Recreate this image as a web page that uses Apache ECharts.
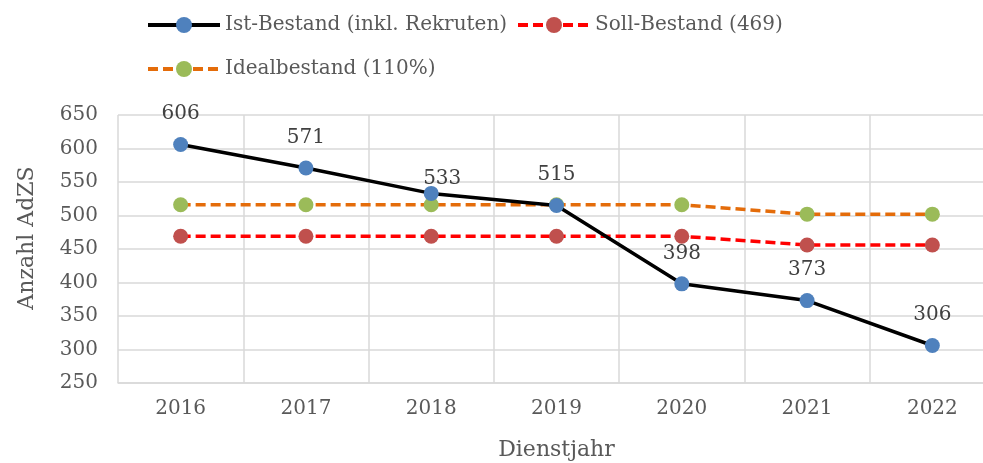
<!DOCTYPE html>
<html>
<head>
<meta charset="utf-8">
<script src="https://cdn.jsdelivr.net/npm/echarts@6/dist/echarts.min.js"></script>
<style>
  html, body { margin: 0; padding: 0; background: #fff; }
  #chart { width: 983px; height: 463px; }
</style>
</head>
<body>
<div id="chart"></div>
<script>
// Dienstjahre
var years = ['2016', '2017', '2018', '2019', '2020', '2021', '2022'];
// Ist-Bestand (inkl. Rekruten)
var istBestand = [606, 571, 533, 515, 398, 373, 306];
// Soll-Bestand (469)
var sollBestand = [469, 469, 469, 469, 469, 456, 456];
// Idealbestand (110%)
var idealBestand = [516, 516, 516, 516, 516, 502, 502];

var font = 'DejaVu Serif';
var textColor = '#595959';

var chart = echarts.init(document.getElementById('chart'));

// eine Legende pro Eintrag, damit die Positionen stimmen
function makeLegend(name, left, top) {
  return {
    data: [name],
    left: left,
    top: top,
    itemWidth: 72,
    itemHeight: 20,
    lineStyle: { width: 4 },
    textStyle: { fontFamily: font, fontSize: 20, color: textColor }
  };
}

// Ist-Werte mit Beschriftung; 533 sitzt im Original leicht versetzt
var istData = istBestand.map(function (v, i) {
  if (i === 2) {
    return { value: v, label: { offset: [11, 16] } };
  }
  return v;
});

var option = {
  animation: false,
  textStyle: { fontFamily: font },
  legend: [
    makeLegend('Ist-Bestand (inkl. Rekruten)', 141, 10),
    makeLegend('Soll-Bestand (469)', 511, 10),
    makeLegend('Idealbestand (110%)', 141, 54)
  ],
  grid: {
    left: 118,
    right: -12,
    top: 115,
    bottom: 80,
    outerBoundsMode: 'none'
  },
  xAxis: {
    type: 'category',
    data: years,
    name: 'Dienstjahr',
    nameLocation: 'middle',
    nameGap: 56,
    nameTextStyle: { fontFamily: font, fontSize: 22, color: textColor },
    axisLine: { lineStyle: { color: '#d9d9d9', width: 1.5 } },
    axisTick: { show: false },
    axisLabel: { margin: 16, fontFamily: font, fontSize: 20, color: textColor },
    splitLine: { show: true, interval: 0, lineStyle: { color: '#d9d9d9', width: 1.5 } }
  },
  yAxis: {
    type: 'value',
    min: 250,
    max: 650,
    interval: 50,
    axisLine: { show: false },
    axisTick: { show: false },
    axisLabel: { margin: 20, fontFamily: font, fontSize: 20, color: textColor },
    splitLine: { lineStyle: { color: '#d9d9d9', width: 1.5 } }
  },
  graphic: [{
    type: 'text',
    x: 27,
    y: 238,
    rotation: Math.PI / 2,
    style: {
      text: 'Anzahl AdZS',
      font: '22px "DejaVu Serif"',
      fill: textColor,
      align: 'center',
      verticalAlign: 'middle'
    }
  }],
  series: [{
    name: 'Ist-Bestand (inkl. Rekruten)',
    type: 'line',
    data: istData,
    z: 3,
    symbol: 'circle',
    symbolSize: 15,
    lineStyle: { color: '#000000', width: 3.5 },
    itemStyle: { color: '#4f81bd', borderWidth: 0 },
    label: {
      show: true,
      position: 'top',
      distance: 13,
      fontFamily: font,
      fontSize: 20,
      color: '#404040'
    }
  }, {
    name: 'Soll-Bestand (469)',
    type: 'line',
    data: sollBestand,
    z: 2,
    symbol: 'circle',
    symbolSize: 15,
    lineStyle: { color: '#ff0000', width: 3.5, type: [10, 5] },
    itemStyle: { color: '#c0504d', borderWidth: 0 }
  }, {
    name: 'Idealbestand (110%)',
    type: 'line',
    data: idealBestand,
    z: 2,
    symbol: 'circle',
    symbolSize: 15,
    lineStyle: { color: '#e46c0a', width: 3.5, type: [10, 5] },
    itemStyle: { color: '#9bbb59', borderWidth: 0 }
  }]
};

chart.setOption(option);
</script>
</body>
</html>
